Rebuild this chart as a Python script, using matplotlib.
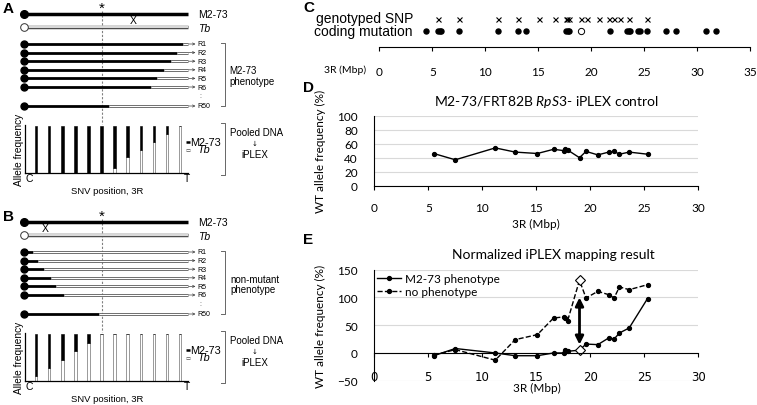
import numpy as np
import matplotlib
matplotlib.use("Agg")
import matplotlib.pyplot as plt

plt.rcParams['mathtext.fontset'] = 'custom'
plt.rcParams['mathtext.rm'] = 'Lato'
plt.rcParams['mathtext.it'] = 'Lato:italic'

W, H = 757, 406
SANS = 'Liberation Sans'
XLF = 'Lato'

# ---- data ----
# A / B schematic: where the M2-73 (black) part of each recombinant ends (fraction of 3R)
rec_labels = ['R1', 'R2', 'R3', 'R4', 'R5', 'R6', 'R50']
a_breaks = [0.97, 0.93, 0.895, 0.854, 0.811, 0.773, 0.52]
b_breaks = [0.053, 0.087, 0.122, 0.163, 0.195, 0.244, 0.457]
star_pos = 0.476
a_x_pos = 0.665
b_x_pos = 0.128
# Tb (white) fraction of pooled allele frequency at each SNV
a_tb_frac = [0, 0, 0, 0, 0, 0, 0.12, 0.34, 0.49, 0.67, 0.84, 1.0]
b_tb_frac = [0.12, 0.29, 0.45, 0.64, 0.82, 1, 1, 1, 1, 1, 1, 1]

# C
snp_pos = [5.5, 7.5, 11.2, 13.05, 15.1, 16.6, 17.6, 17.7, 17.9, 19.0, 19.6,
           20.7, 21.7, 22.2, 22.7, 23.6, 25.3]
coding_pos = [4.4, 5.5, 5.7, 5.85, 7.55, 11.2, 13.05, 13.8, 17.6, 17.8, 17.9,
              21.8, 23.4, 23.6, 23.7, 24.4, 24.6, 25.3, 27.1, 28.0, 30.85, 31.8]
candidate_pos = 19.0

# D
ctrl_wt = [46, 37, 54, 48, 46, 52, 50, 52, 51, 40, 49, 44, 48, 49, 45, 48, 45]

# E
pheno_wt = [-5, 8, 0, -5, -5, 0, 0, 5, 3, 5, 16, 15, 27, 25, 36, 45, 98]
nopheno_wt = [-4, 6, -13, 24, 33, 63, 65, 63, 58, 131, 99, 111, 105, 99, 119, 114, 123]
cand_idx = snp_pos.index(candidate_pos)

fig = plt.figure(figsize=(W / 100, H / 100), dpi=100)


def px_ax(x0, y0, x1, y1):
    return fig.add_axes([x0 / W, 1 - y1 / H, (x1 - x0) / W, (y1 - y0) / H])


sk = fig.add_axes([0, 0, 1, 1])
sk.set_xlim(0, W)
sk.set_ylim(H, 0)
sk.axis('off')

CX0, CX1 = 24, 188


def cx(f):
    return CX0 + (CX1 - CX0) * f


def white_seg(x0, x1, y, lw):
    sk.plot([x0, x1], [y, y], color='0.3', lw=lw, solid_capstyle='butt')
    sk.plot([x0, x1], [y, y], color='white', lw=lw * 0.45, solid_capstyle='butt')


def bracket(x, y0, y1):
    sk.plot([x - 4, x, x, x - 4], [y0, y0, y1, y1], color='0.4', lw=0.7)


def schematic(top, breaks, xpos, tb_frac, label):
    sk.text(3, top - 6, label, fontsize=11, fontweight='bold', family=SANS, va='center')
    y_m, y_t = top, top + 13
    # parental chromosomes
    sk.plot([CX0, CX1], [y_m, y_m], color='k', lw=2.5, solid_capstyle='butt')
    sk.plot(CX0, y_m, 'o', color='k', ms=5.5)
    white_seg(CX0, CX1, y_t, 2.5)
    sk.plot(CX0, y_t, 'o', mfc='white', mec='0.2', ms=5.5, mew=0.7)
    sk.text(198, y_m, 'M2-73', fontsize=7.5, family=SANS, va='center')
    sk.text(198, y_t + 1, 'Tb', fontsize=7.5, family=SANS, style='italic', va='center')
    sk.text(cx(xpos), (y_m + y_t) / 2, 'X', fontsize=7.5, family=SANS, ha='center', va='center')
    sk.text(cx(star_pos), y_m - 6, '*', fontsize=11, family=SANS, ha='center', va='center')
    # recombinants
    rec_y = [top + 30 + 8.6 * i for i in range(6)] + [top + 92]
    for y, b, lab in zip(rec_y, breaks, rec_labels):
        sk.plot([CX0, cx(b)], [y, y], color='k', lw=2.0, solid_capstyle='butt')
        white_seg(cx(b), CX1, y, 2.0)
        sk.plot(CX0, y, 'o', color='k', ms=5)
        sk.annotate('', xy=(195.5, y), xytext=(188.5, y),
                    arrowprops=dict(arrowstyle='->', lw=0.5, color='0.25',
                                    shrinkA=0, shrinkB=0, mutation_scale=4))
        sk.text(197.5, y, lab, fontsize=5, family=SANS, va='center')
    sk.text(200.5, top + 82, ':', fontsize=5, family=SANS, ha='center', va='center', color='0.3')
    bracket(224.5, rec_y[0] - 1, rec_y[-1])
    sk.plot([cx(star_pos)] * 2, [top - 3, top + 110], color='0.5', lw=0.8,
            ls=(0, (2, 1.5)), zorder=0)
    # pooled allele frequency bars
    bx = px_ax(25, top + 110.7, 188, top + 159.3)
    bx.patch.set_visible(False)
    idx = np.arange(len(tb_frac))
    tb = np.array(tb_frac)
    bx.bar(idx, tb, width=0.2, color='white', edgecolor='0.3', lw=0.4)
    bx.bar(idx, 1 - tb, bottom=tb, width=0.2, color='black', edgecolor='black', lw=0.4)
    bx.set_xlim(-0.84, 11.6)
    bx.set_ylim(0, 1.03)
    bx.set_xticks([])
    bx.set_yticks([])
    for s in ['top', 'right']:
        bx.spines[s].set_visible(False)
    for s in ['left', 'bottom']:
        bx.spines[s].set_linewidth(0.9)
    bx.set_ylabel('Allele frequency', fontsize=7.3, family=SANS, labelpad=1)
    sk.text(29, top + 164, 'C', fontsize=7.5, family=SANS, ha='center', va='center')
    sk.text(187, top + 164, 'T', fontsize=7.5, family=SANS, ha='center', va='center')
    sk.text(107, top + 177, 'SNV position, 3R', fontsize=6.8, family=SANS, ha='center', va='center')
    # legend of bars
    sk.plot([186, 190], [top + 128, top + 128], color='k', lw=1.8, solid_capstyle='butt')
    white_seg(186, 190, top + 136, 1.8)
    sk.text(190.5, top + 128, 'M2-73', fontsize=7.8, family=SANS, va='center')
    sk.text(197, top + 135.5, 'Tb', fontsize=7.8, family=SANS, style='italic', va='center')
    bracket(224.5, top + 109, top + 161)
    sk.text(230, top + 118, 'Pooled DNA', fontsize=7, family=SANS, va='center')
    sk.text(255, top + 129, '↓', fontsize=5, family='DejaVu Sans', ha='center', va='center')
    sk.text(255, top + 140, 'iPLEX', fontsize=7, family=SANS, ha='center', va='center')


schematic(15, a_breaks, a_x_pos, a_tb_frac, 'A')
sk.text(229, 71, 'M2-73', fontsize=7, family=SANS, va='center')
sk.text(229, 82, 'phenotype', fontsize=7, family=SANS, va='center')
schematic(223, b_breaks, b_x_pos, b_tb_frac, 'B')
sk.text(230, 280, 'non-mutant', fontsize=7, family=SANS, va='center')
sk.text(230, 290, 'phenotype', fontsize=7, family=SANS, va='center')


def excel_axis(ax, xmax):
    ax.set_xlim(0, xmax)
    ax.set_xticks(np.arange(0, xmax + 1, 5))
    ax.tick_params(axis='x', direction='out', length=3, width=0.8, pad=9,
                   labelsize=8.5)
    for lab in ax.get_xticklabels():
        lab.set_family(XLF)
    for s in ['top', 'right']:
        ax.spines[s].set_visible(False)


# ---- C ----
sk.text(303, 8, 'C', fontsize=11, fontweight='bold', family=SANS, va='center')
cax = px_ax(379.4, 10, 750, 48)
cax.patch.set_visible(False)
cax.plot(snp_pos, np.ones(len(snp_pos)), 'x', color='k', ms=3.6, mew=0.8, ls='none')
cax.plot(coding_pos, np.zeros(len(coding_pos)), 'o', color='k', ms=3.6, ls='none')
cax.plot([candidate_pos], [0], 'o', mfc='white', mec='k', ms=4.5, mew=0.7)
cax.set_ylim(-1.333, 1.833)
excel_axis(cax, 35)
cax.spines['left'].set_visible(False)
cax.set_yticks([])
cax.tick_params(axis='x', pad=11)
sk.text(413, 19.5, 'genotyped SNP', fontsize=10, family=SANS, ha='right', va='center')
sk.text(413, 32, 'coding mutation', fontsize=10, family=SANS, ha='right', va='center')
sk.text(366, 70, '3R (Mbp)', fontsize=7.5, family=XLF, ha='right', va='center')

# ---- D ----
sk.text(303, 88, 'D', fontsize=11, fontweight='bold', family=SANS, va='center')
dax = px_ax(374.3, 116.7, 698.3, 186.7)
dax.plot(snp_pos, ctrl_wt, '-o', color='k', lw=1, ms=2.8)
excel_axis(dax, 30)
dax.set_ylim(0, 100)
dax.set_yticks(np.arange(0, 101, 20))
dax.yaxis.grid(True, color='#d9d9d9', lw=0.8)
dax.set_axisbelow(True)
dax.tick_params(axis='y', length=0, pad=12, labelsize=8.5)
for lab in dax.get_yticklabels():
    lab.set_family(XLF)
dax.spines['left'].set_linewidth(0.8)
dax.spines['bottom'].set_linewidth(0.8)
dax.set_ylabel('WT allele frequency (%)', fontsize=8.5, family=XLF, labelpad=8)
dax.set_xlabel('3R (Mbp)', fontsize=8.5, family=XLF, labelpad=3)
sk.text(546, 101.7, r'M2-73/FRT82B $\mathit{RpS3}$- iPLEX control', fontsize=10,
        family=XLF, ha='center', va='center')

# ---- E ----
sk.text(303, 240, 'E', fontsize=11, fontweight='bold', family=SANS, va='center')
eax = px_ax(374.3, 270.7, 698.3, 381.7)
eax.plot(snp_pos, pheno_wt, '-o', color='k', lw=1, ms=2.8, label='M2-73 phenotype')
eax.plot(snp_pos, nopheno_wt, '--o', color='k', lw=1, ms=2.8, label='no phenotype')
eax.plot([candidate_pos] * 2, [pheno_wt[cand_idx], nopheno_wt[cand_idx]], 'D',
         mfc='white', mec='k', ms=5.5, mew=0.8, ls='none')
eax.annotate('', xy=(candidate_pos, 100), xytext=(candidate_pos, 15),
             arrowprops=dict(arrowstyle='<|-|>', lw=2.0, color='k',
                             mutation_scale=12, shrinkA=0, shrinkB=0))
excel_axis(eax, 30)
eax.set_ylim(-50, 150)
eax.set_yticks(np.arange(-50, 151, 50))
eax.spines['bottom'].set_position(('data', 0))
eax.yaxis.grid(True, color='#d9d9d9', lw=0.8)
eax.set_axisbelow(True)
eax.tick_params(axis='y', length=0, pad=12, labelsize=8.5)
for lab in eax.get_yticklabels():
    lab.set_family(XLF)
eax.spines['left'].set_linewidth(0.8)
eax.spines['bottom'].set_linewidth(0.8)
eax.set_ylabel('WT allele frequency (%)', fontsize=8.5, family=XLF, labelpad=8)
sk.text(537, 388, '3R (Mbp)', fontsize=8.5, family=XLF, ha='center', va='center')
sk.text(553, 255, 'Normalized iPLEX mapping result', fontsize=10, family=XLF,
        ha='center', va='center')
eax.legend(loc='upper left', bbox_to_anchor=(377, 274), bbox_transform=sk.transData,
           frameon=False, prop={'family': XLF, 'size': 8.5},
           handlelength=2.0, handletextpad=0.4, labelspacing=0.15, borderpad=0,
           borderaxespad=0, numpoints=1)

fig.savefig('out.png', dpi=100)
